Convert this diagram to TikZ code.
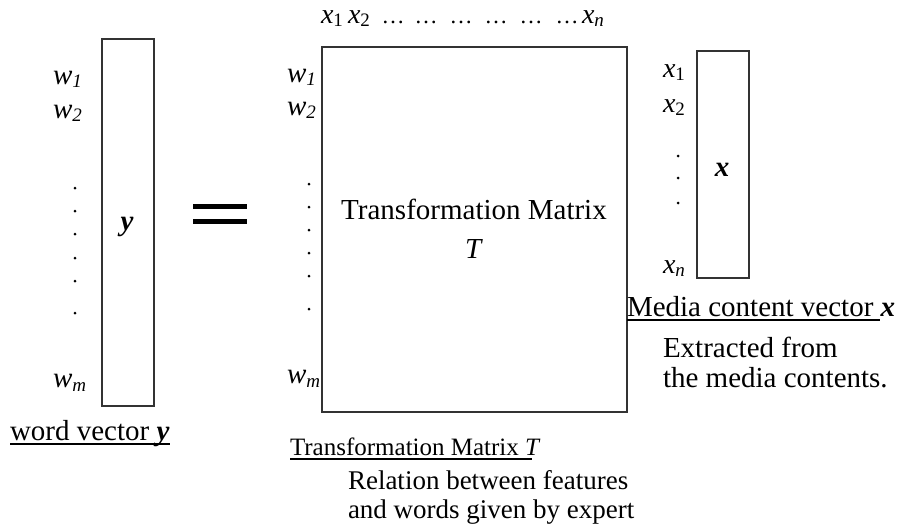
\documentclass[tikz,border=0pt]{standalone}
\usepackage{fontspec}
\setmainfont{Liberation Serif}
\newcommand\fsz[1]{\fontsize{#1}{#1}\selectfont}
\newcommand\lowsub[1]{\raisebox{-0.3ex}{\fsz{19}#1}}
\begin{document}
\begin{tikzpicture}[x=1pt,y=-1pt,
  every node/.style={inner sep=0pt, outer sep=0pt, font=\fsz{29}},
  vecbox/.style={draw=black!80, line width=1.3pt},
  uline/.style={line width=1.3pt},
  eqbar/.style={line width=4.5pt},
  dotmark/.style={fill=black}]
\useasboundingbox (0,0) rectangle (899,528);

% ---- word vector y ----
\draw[vecbox] (102,39) rectangle (154,406);
\node[anchor=base] (ylab) at (127,230) {\textbf{\textit{y}}};
\node[anchor=base west] (yw1) at (53,84) {\textit{w}\lowsub{\textit{1}}};
\node[anchor=base west] (yw2) at (53,118) {\textit{w}\lowsub{\textit{2}}};
\node[anchor=base west] (ywm) at (53,387) {\textit{w}\lowsub{\textit{m}}};
\foreach \yy in {188,211,234,258,281,313} \fill[dotmark] (75,\yy) circle (1.5);
\node[anchor=base west] (wv) at (10,440) {word vector \textbf{\textit{y}}};
\draw[uline] ([yshift=-4pt]wv.base west) -- ([yshift=-4pt]wv.base east);

% ---- equals sign ----
\draw[eqbar] (193,206.5) -- (247,206.5);
\draw[eqbar] (193,221.5) -- (247,221.5);

% ---- transformation matrix T ----
\draw[vecbox] (322,47) rectangle (627,412);
\node[anchor=base] (tm) at (474,219) {Transformation Matrix};
\node[anchor=base] (tt) at (474,258) {\textit{T}};
\node[anchor=base west, font=\fsz{28}] (tx1) at (321,23) {\textit{x}\lowsub{1}};
\node[anchor=base west, font=\fsz{28}] (tx2) at (348,23) {\textit{x}\lowsub{2}};
\foreach \xx in {393,426,461,496,531,567}
  \node[anchor=base, font=\fsz{23}] at (\xx,23) {\ldots};
\node[anchor=base west, font=\fsz{28}] (txn) at (582,23) {\textit{x}\lowsub{\textit{n}}};
\node[anchor=base west] (tw1) at (287,82) {\textit{w}\lowsub{\textit{1}}};
\node[anchor=base west] (tw2) at (287,115) {\textit{w}\lowsub{\textit{2}}};
\node[anchor=base west] (twm) at (287,383) {\textit{w}\lowsub{\textit{m}}};
\foreach \yy in {184,207,230,253,276,309} \fill[dotmark] (309,\yy) circle (1.5);
\node[anchor=base west, font=\fsz{25}] (tmlab) at (290,455) {Transformation Matrix \textit{T}};
\draw[uline] ([yshift=-4pt]tmlab.base west) -- ([yshift=-4pt,xshift=-9pt]tmlab.base east);
\node[anchor=base west, font=\fsz{27}] (rel1) at (348,489) {Relation between features};
\node[anchor=base west, font=\fsz{27}] (rel2) at (348,518) {and words given by expert};

% ---- media content vector x ----
\draw[vecbox] (697,51) rectangle (749,278);
\node[anchor=base] (xlab) at (722,176) {\textbf{\textit{x}}};
\node[anchor=base west, font=\fsz{28}] (xx1) at (663,77) {\textit{x}\lowsub{1}};
\node[anchor=base west, font=\fsz{28}] (xx2) at (663,112) {\textit{x}\lowsub{2}};
\node[anchor=base west, font=\fsz{28}] (xxn) at (663,273) {\textit{x}\lowsub{\textit{n}}};
\foreach \yy in {156,178,203} \fill[dotmark] (678,\yy) circle (1.5);
\node[anchor=base west] (mc) at (627,316) {Media content vector \textbf{\textit{x}}};
\draw[uline] ([yshift=-4pt]mc.base west) -- ([yshift=-4pt,xshift=-15pt]mc.base east);
\node[anchor=base west] (ex1) at (663,357) {Extracted from};
\node[anchor=base west] (ex2) at (663,387) {the media contents.};
\end{tikzpicture}
\end{document}
